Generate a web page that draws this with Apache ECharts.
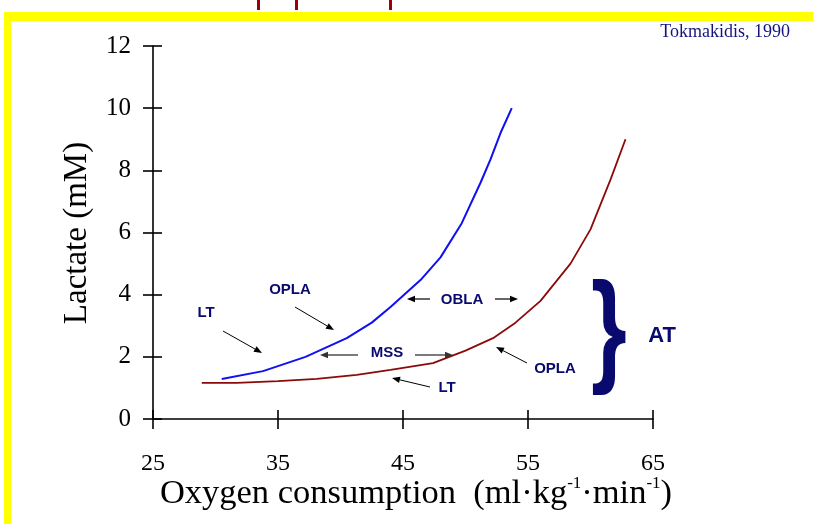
<!DOCTYPE html>
<html>
<head>
<meta charset="utf-8">
<script src="https://cdn.jsdelivr.net/npm/echarts@6/dist/echarts.min.js"></script>
<style>
  html, body { margin: 0; padding: 0; background: #ffffff; }
  #chart { width: 813px; height: 524px; }
</style>
</head>
<body>
<div id="chart"></div>
<script>
// Lactate vs oxygen consumption, two subjects (trained = red, untrained = blue)
const xTicks = [25, 35, 45, 55, 65];
const yTicks = [0, 2, 4, 6, 8, 10, 12];

// VO2 (ml·kg-1·min-1) and blood lactate (mM) along each curve
const blueVO2     = [30.5, 33.8, 37.2, 40.5, 42.5, 44.0, 46.4, 48.0, 49.7, 51.2, 52.0, 52.8, 53.7];
const blueLactate = [1.29, 1.54, 2.0, 2.6, 3.1, 3.6, 4.47, 5.2, 6.3, 7.6, 8.35, 9.2, 10.0];

const redVO2      = [28.9, 31.7, 35.0, 38.1, 41.3, 44.0, 47.4, 50.0, 52.2, 54.0, 56.0, 58.4, 60.0, 61.6, 62.8];
const redLactate  = [1.16, 1.16, 1.22, 1.29, 1.42, 1.58, 1.8, 2.2, 2.6, 3.1, 3.8, 5.0, 6.1, 7.7, 9.0];

const navy = '#0a0a6e';
const serif = 'Liberation Serif, Times New Roman, serif';
const sans = 'Liberation Sans, Arial, sans-serif';

function pairs(xs, ys) { return xs.map((x, i) => [x, ys[i]]); }

const chart = echarts.init(document.getElementById('chart'), null, { renderer: 'canvas' });

// arrow: shaft plus triangular head at (x2, y2)
function arrow(x1, y1, x2, y2, color, width) {
  const ang = Math.atan2(y2 - y1, x2 - x1);
  const L = 8, W = 3.2;
  const bx = x2 - L * Math.cos(ang), by = y2 - L * Math.sin(ang);
  const px = -Math.sin(ang) * W, py = Math.cos(ang) * W;
  return [
    { type: 'line', shape: { x1: x1, y1: y1, x2: bx, y2: by }, style: { stroke: color, lineWidth: width }, z: 10 },
    { type: 'polygon', shape: { points: [[x2, y2], [bx + px, by + py], [bx - px, by - py]] }, style: { fill: color }, z: 10 }
  ];
}

function label(text, x, y, size) {
  return {
    type: 'text', x: x, y: y, z: 10,
    style: { text: text, fill: navy, font: 'bold ' + size + 'px ' + sans, align: 'center', verticalAlign: 'middle' }
  };
}

const graphics = [
  // frame strips
  { type: 'rect', shape: { x: 4, y: 12, width: 809, height: 9 }, style: { fill: '#ffff00' } },
  { type: 'rect', shape: { x: 4, y: 12, width: 7, height: 512 }, style: { fill: '#ffff00' } },
  { type: 'rect', shape: { x: 257, y: 0, width: 3, height: 10 }, style: { fill: '#a00000' } },
  { type: 'rect', shape: { x: 295, y: 0, width: 3, height: 10 }, style: { fill: '#a00000' } },
  { type: 'rect', shape: { x: 389, y: 0, width: 3, height: 10 }, style: { fill: '#a00000' } },
  // source
  { type: 'text', x: 790, y: 32, style: { text: 'Tokmakidis, 1990', fill: '#141480', font: '18px ' + serif, align: 'right', verticalAlign: 'middle' } },
  // axis titles
  { type: 'text', x: 77, y: 233, rotation: Math.PI / 2,
    style: { text: 'Lactate (mM)', fill: '#000', font: '33px ' + serif, align: 'center', verticalAlign: 'middle' } },
  { type: 'text', x: 416, y: 494,
    style: {
      text: '{a|Oxygen consumption  (ml·kg}{s|-1}{a|·min}{s|-1}{a|)}',
      align: 'center', verticalAlign: 'middle',
      rich: {
        a: { fontSize: 34.5, fontFamily: serif, fill: '#000', lineHeight: 38 },
        s: { fontSize: 17, fontFamily: serif, fill: '#000', lineHeight: 17, verticalAlign: 'top' }
      }
    } },
  // annotations
  label('LT', 206, 313, 15),
  label('OPLA', 290, 290, 15),
  label('MSS', 387, 353, 15),
  label('LT', 447, 388, 15),
  label('OBLA', 462, 300, 15),
  label('OPLA', 555, 369, 15),
  label('AT', 662, 336, 22),
  { type: 'text', x: 609, y: 334, scaleY: 1.36, z: 10,
    style: { text: '}', fill: navy, font: 'bold 92px ' + sans, align: 'center', verticalAlign: 'middle' } }
]
  .concat(arrow(223, 331, 262, 353, '#000', 1))
  .concat(arrow(295, 307, 334, 330, '#000', 1))
  .concat(arrow(358, 355, 320, 355, '#333', 1.3))
  .concat(arrow(415, 355, 453, 355, '#333', 1.3))
  .concat(arrow(430, 387, 392, 378, '#000', 1))
  .concat(arrow(430, 299, 407, 299, '#000', 1.2))
  .concat(arrow(495, 299, 518, 299, '#000', 1.2))
  .concat(arrow(527, 363, 496, 347, '#000', 1));

const axisLineStyle = { color: '#000', width: 1.6 };

chart.setOption({
  animation: false,
  backgroundColor: '#ffffff',
  grid: { left: 153, right: 160, top: 46, bottom: 105, containLabel: false },
  xAxis: [
    {
      type: 'value', min: xTicks[0], max: xTicks[xTicks.length - 1], interval: 10,
      axisLine: { show: true, onZero: false, lineStyle: axisLineStyle },
      axisTick: { show: true, length: 10, lineStyle: axisLineStyle },
      axisLabel: { margin: 33, fontSize: 24, fontFamily: serif, color: '#000' },
      splitLine: { show: false }
    },
    {
      type: 'value', position: 'bottom', min: xTicks[0], max: xTicks[xTicks.length - 1], interval: 10,
      axisLine: { show: false },
      axisTick: { show: true, inside: true, length: 9, lineStyle: axisLineStyle },
      axisLabel: { show: false }, splitLine: { show: false }
    }
  ],
  yAxis: [
    {
      type: 'value', min: yTicks[0], max: yTicks[yTicks.length - 1], interval: 2,
      axisLine: { show: true, onZero: false, lineStyle: axisLineStyle },
      axisTick: { show: true, length: 10, lineStyle: axisLineStyle },
      axisLabel: { margin: 22, fontSize: 25, fontFamily: serif, color: '#000' },
      splitLine: { show: false }
    },
    {
      type: 'value', position: 'left', min: yTicks[0], max: yTicks[yTicks.length - 1], interval: 2,
      axisLine: { show: false },
      axisTick: { show: true, inside: true, length: 9, lineStyle: axisLineStyle },
      axisLabel: { show: false }, splitLine: { show: false }
    }
  ],
  series: [
    {
      name: 'blue', type: 'line', data: pairs(blueVO2, blueLactate),
      showSymbol: false, symbol: 'none', smooth: false,
      lineStyle: { color: '#1010f0', width: 2 }, z: 3
    },
    {
      name: 'red', type: 'line', data: pairs(redVO2, redLactate),
      showSymbol: false, symbol: 'none', smooth: false,
      lineStyle: { color: '#8b0a0a', width: 1.8 }, z: 3
    }
  ],
  graphic: graphics
});
</script>
</body>
</html>
